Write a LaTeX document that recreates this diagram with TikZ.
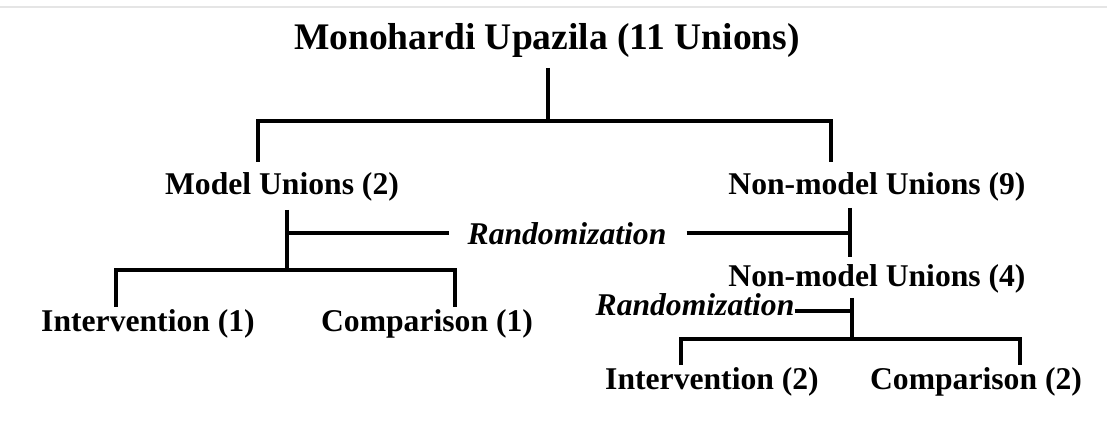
\documentclass[tikz,border=0pt]{standalone}
\usepackage{fontspec}
\setmainfont{Liberation Serif}

\begin{document}
\begin{tikzpicture}[
    x=0.025cm, y=-0.025cm,
    lbl/.style={inner sep=0pt, anchor=base, font=\fontsize{22.5}{26}\selectfont\bfseries},
    rnd/.style={inner sep=0pt, anchor=base, font=\fontsize{22.5}{26}\selectfont\bfseries\itshape},
    ttl/.style={inner sep=0pt, anchor=base, font=\fontsize{26.7}{31}\selectfont\bfseries},
    tree/.style={line width=2.8pt}
]
    \useasboundingbox (0,0) rectangle (1107,426);
    \draw[gray!20, line width=1.5pt] (0,7) -- (1107,7);

    % Upazila and first split
    \node[ttl] (upz) at (547, 50) {Monohardi Upazila (11 Unions)};
    \node[lbl] (mdl) at (282, 195) {Model Unions (2)};
    \node[lbl] (nm9) at (877, 195) {Non-model Unions (9)};
    \coordinate (u0) at (548, 68);
    \coordinate (u1) at (548, 121);
    \coordinate (ul) at (258, 162);
    \coordinate (ur) at (831, 162);
    \draw[tree] (u0) -- (u1);
    \draw[tree] (ul) |- (u1) -| (ur);

    % Randomization of model unions
    \node[rnd] (rnd1) at (567, 245) {Randomization};
    \node[lbl] (int1) at (148, 332) {Intervention (1)};
    \node[lbl] (cmp1) at (427, 332) {Comparison (1)};
    \coordinate (m0) at (287, 210);
    \coordinate (m1) at (287, 270);
    \coordinate (ml) at (116, 307);
    \coordinate (mr) at (455, 307);
    \coordinate (r1) at (287, 233);
    \draw[tree] (m0) -- (m1);
    \draw[tree] (r1) -- ([xshift=-0.45cm]rnd1.west |- r1);
    \draw[tree] (ml) |- (m1) -| (mr);

    % Selection of non-model unions
    \node[lbl] (nm4) at (877, 287) {Non-model Unions (4)};
    \coordinate (n0) at (850, 208);
    \coordinate (n1) at (850, 257);
    \draw[tree] (n0) -- (n1);
    \draw[tree] ([xshift=0.5cm]rnd1.east |- r1) -- (n0 |- r1);

    % Randomization of non-model unions
    \node[rnd] (rnd2) at (695, 316) {Randomization};
    \node[lbl] (int2) at (712, 390) {Intervention (2)};
    \node[lbl] (cmp2) at (976, 390) {Comparison (2)};
    \coordinate (k0) at (852, 298);
    \coordinate (k1) at (852, 339);
    \coordinate (kl) at (681, 365);
    \coordinate (kr) at (1020, 365);
    \coordinate (r2) at (852, 311);
    \draw[tree] (k0) -- (k1);
    \draw[tree] (rnd2.east |- r2) -- (r2);
    \draw[tree] (kl) |- (k1) -| (kr);

\end{tikzpicture}
\end{document}
